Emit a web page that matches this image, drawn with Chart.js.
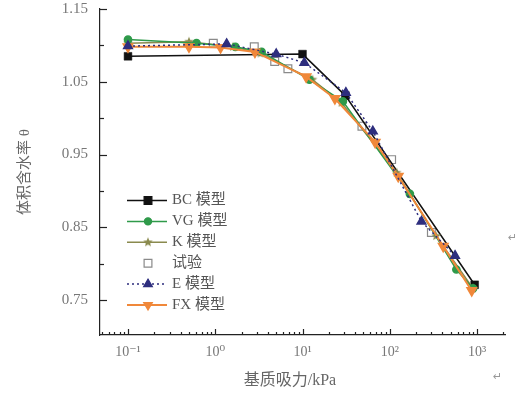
<!DOCTYPE html>
<html><head><meta charset="utf-8">
<script src="https://cdn.jsdelivr.net/npm/chart.js@4/dist/chart.umd.min.js"></script>
<style>html,body{margin:0;padding:0;background:#fff}#wrap{width:517px;height:395px}</style>
</head><body><div id="wrap"><canvas id="c" width="517" height="395"></canvas></div>
<script>
// ---- data ----
const bcX = [0.1, 10, 31, 940];
const bcY = [1.085, 1.088, 1.031, 0.771];
const vgX = [0.1, 0.61, 1.7, 3.4, 12, 29, 170, 580, 900];
const vgY = [1.108, 1.103, 1.098, 1.091, 1.053, 1.023, 0.896, 0.792, 0.766];
const kX = [0.1, 0.5, 1.6, 3.3, 13, 28, 120, 340, 900];
const kY = [1.103, 1.105, 1.098, 1.089, 1.053, 1.021, 0.925, 0.838, 0.766];
const expX = [0.95, 2.8, 4.8, 6.8, 48, 105, 300];
const expY = [1.103, 1.098, 1.078, 1.068, 0.989, 0.943, 0.843];
const eX = [0.1, 1.35, 5, 10.5, 31.4, 64, 231, 560];
const eY = [1.099, 1.102, 1.088, 1.076, 1.035, 0.982, 0.858, 0.811];
const fxX = [0.1, 0.5, 1.15, 2.85, 11, 23.5, 68, 125, 410, 870];
const fxY = [1.098, 1.098, 1.097, 1.091, 1.057, 1.027, 0.967, 0.920, 0.824, 0.763];

const seriesNames = ['BC 模型', 'VG 模型', 'K 模型', '试验', 'E 模型', 'FX 模型'];
const xTickValues = [0.1, 1, 10, 100, 1000];
const xTickLabels = ['10⁻¹', '10⁰', '10¹', '10²', '10³'];
const yTickValues = [0.75, 0.85, 0.95, 1.05, 1.15];
const yMinorValues = [0.80, 0.90, 1.00, 1.10];
const xTitle = '基质吸力/kPa';
const yTitle = '体积含水率 θ';

// ---- styles ----
function pts(xs, ys){ return xs.map((x,i)=>({x:x, y:ys[i]})); }
function makeStar(color, r){
  const c = document.createElement('canvas');
  const s = Math.ceil(r*2+2); c.width = s; c.height = s;
  const g = c.getContext('2d'); g.fillStyle = color; g.beginPath();
  for(let i=0;i<10;i++){
    const rr = i%2===0 ? r : r*0.45;
    const a = -Math.PI/2 + i*Math.PI/5;
    const px = s/2 + rr*Math.cos(a), py = s/2 + rr*Math.sin(a);
    i===0 ? g.moveTo(px,py) : g.lineTo(px,py);
  }
  g.closePath(); g.fill(); return c;
}
const C_BC='#111111', C_VG='#2f9a4a', C_K='#8a8a4e', C_EXP='#8a8a8a', C_E='#2e2e7e', C_FX='#f0883a';
const starImg = makeStar(C_K, 5);

const datasets = [
  {label:seriesNames[0], data:pts(bcX,bcY), borderColor:C_BC, backgroundColor:C_BC, borderWidth:1.5,
   pointStyle:'rect', pointRadius:5.5, pointBorderWidth:0.5, order:5},
  {label:seriesNames[1], data:pts(vgX,vgY), borderColor:C_VG, backgroundColor:C_VG, borderWidth:1.5,
   pointStyle:'circle', pointRadius:3.6, order:3},
  {label:seriesNames[2], data:pts(kX,kY), borderColor:C_K, backgroundColor:C_K, borderWidth:1.5,
   pointStyle:starImg, pointRadius:5, order:4},
  {label:seriesNames[3], data:pts(expX,expY), borderColor:C_EXP, backgroundColor:'rgba(255,255,255,0)', borderWidth:1.2,
   showLine:false, pointStyle:'rect', pointRadius:5.5, pointBorderWidth:1.2, order:6},
  {label:seriesNames[4], data:pts(eX,eY), borderColor:C_E, backgroundColor:C_E, borderWidth:1.5, borderDash:[2,3],
   pointStyle:'triangle', pointRadius:5, order:1},
  {label:seriesNames[5], data:pts(fxX,fxY), borderColor:C_FX, backgroundColor:C_FX, borderWidth:2,
   pointStyle:'triangle', rotation:180, pointRadius:5, order:2}
];

const SERIF = '"Liberation Serif","DejaVu Serif","Noto Sans CJK SC",serif';

const decor = {
  id:'decor',
  afterDraw(chart){
    const ctx = chart.ctx, xs = chart.scales.x, ys = chart.scales.y;
    const ca = chart.chartArea;
    ctx.save();
    ctx.strokeStyle = '#222'; ctx.lineWidth = 1.2;
    // inward ticks on y
    yTickValues.forEach(v=>{ const p=Math.round(ys.getPixelForValue(v))+0.5; ctx.beginPath(); ctx.moveTo(ca.left,p); ctx.lineTo(ca.left+7,p); ctx.stroke(); });
    yMinorValues.forEach(v=>{ const p=Math.round(ys.getPixelForValue(v))+0.5; ctx.beginPath(); ctx.moveTo(ca.left,p); ctx.lineTo(ca.left+4,p); ctx.stroke(); });
    // inward ticks on x
    for(let e=-2;e<=3;e++){
      for(let m=1;m<10;m++){
        const v = m*Math.pow(10,e);
        if(v < xs.min || v > xs.max) continue;
        const p = Math.round(xs.getPixelForValue(v))+0.5;
        const len = m===1 ? 6 : 3;
        ctx.beginPath(); ctx.moveTo(p,ca.bottom); ctx.lineTo(p,ca.bottom-len); ctx.stroke();
      }
    }
    // legend inside plot
    const lx0 = 127, lx1 = 167, mx = 148, tx = 172;
    const rows = [200.5, 221.4, 242.3, 263.2, 284.1, 305];
    ctx.font = '15px ' + SERIF; ctx.fillStyle = '#555'; ctx.textBaseline = 'middle'; ctx.textAlign = 'left';
    chart.data.datasets.forEach((ds,i)=>{
      const y = rows[i];
      if(ds.showLine !== false){
        ctx.save(); ctx.strokeStyle = ds.borderColor; ctx.lineWidth = ds.borderWidth;
        ctx.setLineDash(ds.borderDash || []);
        ctx.beginPath(); ctx.moveTo(lx0,y); ctx.lineTo(lx1,y); ctx.stroke(); ctx.restore();
      }
      ctx.save();
      ctx.fillStyle = ds.backgroundColor; ctx.strokeStyle = ds.borderColor;
      Chart.helpers.drawPoint(ctx, {pointStyle:ds.pointStyle, radius:ds.pointRadius, rotation:ds.rotation||0,
        borderWidth: ds.pointBorderWidth!==undefined ? ds.pointBorderWidth : 1}, mx, y);
      ctx.restore();
      ctx.fillStyle = '#555';
      ctx.fillText(ds.label, tx, y);
    });
    // x axis title (slightly left of centre, as in the source)
    ctx.font = '16px ' + SERIF; ctx.fillStyle = '#666'; ctx.textAlign = 'center'; ctx.textBaseline = 'middle';
    ctx.fillText(xTitle, 290, 381);
    // stray paragraph marks from the source document
    ctx.font = '11px "DejaVu Sans",sans-serif'; ctx.fillStyle = '#999'; ctx.textAlign = 'left';
    ctx.fillText('↵', 493, 377);
    ctx.fillText('↵', 508, 238);
    ctx.restore();
  }
};

new Chart(document.getElementById('c'), {
  type:'line',
  data:{datasets:datasets},
  plugins:[decor],
  options:{
    responsive:false, animation:false, devicePixelRatio:1,
    layout:{padding:{left:0, right:12, top:9, bottom:0}},
    plugins:{legend:{display:false}, tooltip:{enabled:false}},
    elements:{line:{tension:0}},
    scales:{
      x:{type:'logarithmic', position:'bottom', min:0.04777, max:2093,
        afterBuildTicks(s){ s.ticks = xTickValues.map(v=>({value:v})); },
        afterFit(s){ s.height = 60; s.paddingLeft = 0; s.paddingRight = 0; },
        ticks:{callback:(v)=>{ const i=xTickValues.findIndex(t=>Math.abs(t-v)/t<1e-6); return i>=0?xTickLabels[i]:''; },
          color:'#777', font:{family:SERIF, size:14}, padding:9, maxRotation:0, autoSkip:false},
        grid:{display:false, drawTicks:false},
        border:{display:true, color:'#222', width:1.2}
      },
      y:{type:'linear', position:'left', min:0.702, max:1.15,
        afterBuildTicks(s){ s.ticks = yTickValues.map(v=>({value:v})); },
        afterFit(s){ s.width = 100; s.paddingTop = 0; s.paddingBottom = 0; },
        ticks:{callback:(v)=>v.toFixed(2), color:'#777', font:{family:SERIF, size:15}, padding:12, autoSkip:false},
        grid:{display:false, drawTicks:false},
        border:{display:true, color:'#222', width:1.2},
        title:{display:true, text:yTitle, color:'#666', font:{family:SERIF, size:15}, padding:{top:16, bottom:0}}
      }
    }
  }
});
</script>
</body></html>
